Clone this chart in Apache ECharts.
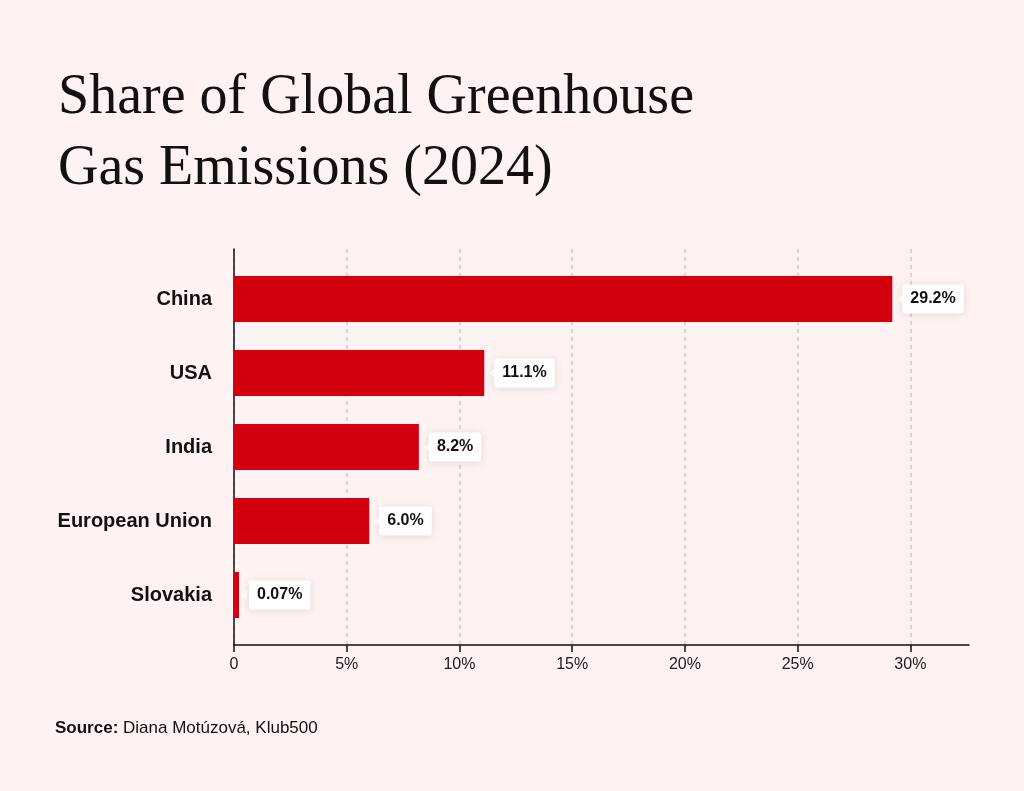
<!DOCTYPE html>
<html>
<head>
<meta charset="utf-8">
<title>Share of Global Greenhouse Gas Emissions (2024)</title>
<script src="https://cdn.jsdelivr.net/npm/echarts@6/dist/echarts.min.js"></script>
<style>
  html, body { margin: 0; padding: 0; background: #fff2f2; }
  #chart { width: 1024px; height: 791px; }
</style>
</head>
<body>
<div id="chart"></div>
<script>
// data
var countries = ['China', 'USA', 'India', 'European Union', 'Slovakia'];
var shares = [29.2, 11.1, 8.2, 6.0, 0.07];
var shareLabels = ['29.2%', '11.1%', '8.2%', '6.0%', '0.07%'];
var xTicks = [0, 5, 10, 15, 20, 25, 30];

var chart = echarts.init(document.getElementById('chart'));

var sans = 'Liberation Sans, Arial, sans-serif';
var xMax = 32.6;

var option = {
  backgroundColor: '#fff2f2',
  animation: false,
  title: {
    text: 'Share of Global Greenhouse\nGas Emissions (2024)',
    left: 53,
    top: 58,
    textStyle: {
      fontFamily: 'Liberation Serif, Times New Roman, serif',
      fontSize: 56,
      fontWeight: 'normal',
      color: '#111',
      lineHeight: 71
    }
  },
  graphic: [{
    type: 'text',
    left: 55,
    top: 720,
    style: {
      text: '{b|Source:} Diana Motúzová, Klub500',
      rich: {
        b: { fontWeight: 'bold', fontSize: 17, fontFamily: sans, fill: '#111' }
      },
      fontSize: 17,
      fontFamily: sans,
      fill: '#111'
    }
  }],
  // grid 0 holds the bars, grid 1 the framing axes and dashed lines
  grid: [
    { left: 234, right: 55, top: 262, bottom: 159 },
    { left: 234, right: 55, top: 249, bottom: 146 }
  ],
  xAxis: [{
    type: 'value',
    gridIndex: 0,
    min: 0,
    max: xMax,
    show: false
  }, {
    type: 'value',
    gridIndex: 1,
    min: 0,
    max: xMax,
    interval: 5,
    axisLine: { show: true, lineStyle: { color: '#111', width: 1.5 } },
    axisTick: { show: true, length: 7, customValues: xTicks, lineStyle: { color: '#111', width: 1.5 } },
    axisLabel: {
      customValues: xTicks,
      margin: 12,
      fontSize: 16,
      color: '#1a1a1a',
      fontFamily: sans,
      formatter: function (v) { return v === 0 ? '0' : v + '%'; }
    },
    splitLine: { show: true, lineStyle: { color: '#cfcaca', type: [4, 4], width: 1.5 } }
  }],
  yAxis: [{
    type: 'category',
    gridIndex: 0,
    inverse: true,
    data: countries,
    axisLine: { show: false },
    axisTick: { show: false },
    splitLine: { show: false },
    axisLabel: {
      margin: 22,
      fontSize: 20,
      fontWeight: 'bold',
      color: '#111',
      fontFamily: sans
    }
  }, {
    type: 'value',
    gridIndex: 1,
    min: 0,
    max: 1,
    axisLine: { show: true, lineStyle: { color: '#111', width: 1.5 } },
    axisTick: { show: false },
    axisLabel: { show: false },
    splitLine: { show: false }
  }],
  series: [{
    type: 'bar',
    xAxisIndex: 0,
    yAxisIndex: 0,
    data: shares,
    barWidth: 46,
    barMinHeight: 5,
    itemStyle: { color: '#d2000f' },
    label: {
      show: true,
      position: 'right',
      distance: 10,
      formatter: function (p) { return shareLabels[p.dataIndex]; },
      fontSize: 16,
      fontWeight: 'bold',
      color: '#111',
      fontFamily: sans,
      backgroundColor: '#fff',
      borderRadius: 3,
      padding: [7, 8, 6, 8],
      shadowBlur: 8,
      shadowColor: 'rgba(0,0,0,0.12)',
      shadowOffsetY: 1
    }
  }, {
    type: 'scatter',
    xAxisIndex: 0,
    yAxisIndex: 0,
    data: shares.map(function (v, i) { return [v, countries[i]]; }),
    symbol: 'path://M0,5L6,0L6,10Z',
    symbolSize: [6, 10],
    symbolOffset: [8, 0],
    itemStyle: { color: '#fff' },
    silent: true,
    z: 5
  }]
};

chart.setOption(option);
</script>
</body>
</html>
